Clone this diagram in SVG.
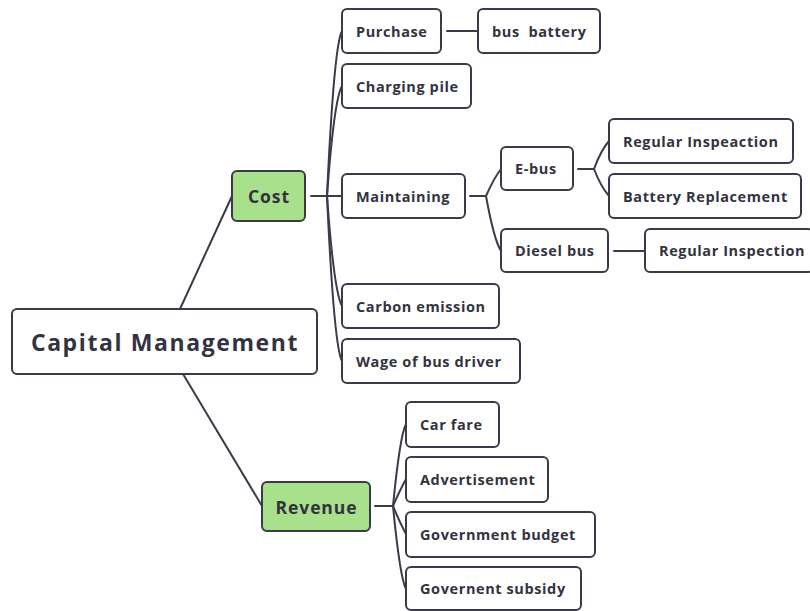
<svg xmlns="http://www.w3.org/2000/svg" width="810" height="611" viewBox="0 0 810 611">
  <style>
    .box { fill: #ffffff; stroke: #3a3a4a; stroke-width: 2; }
    .main { fill: #a8e08c; stroke: #3a3a4a; stroke-width: 2; }
    .lbl { font-family: "Open Sans", "Liberation Sans", sans-serif; font-weight: 700; font-size: 14.5px; letter-spacing: 0.6px; fill: #33333f; dominant-baseline: central; }
    .mid { font-size: 17.5px; letter-spacing: 0.9px; text-anchor: middle; }
    .root { font-size: 23px; letter-spacing: 1.6px; text-anchor: middle; }
    .link { fill: none; stroke: #3a3a4a; stroke-width: 2; stroke-linecap: round; }
  </style>
  <rect width="810" height="611" fill="#ffffff"/>

  <!-- connectors -->
  <g id="connectors">
    <path class="link" d="M180 309 L232 196"/>
    <path class="link" d="M183 374 L262 506"/>
    <!-- cost branch -->
    <path class="link" d="M311 196 L327 196"/>
    <path class="link" d="M327 196 Q334 45 342 31"/>
    <path class="link" d="M327 196 Q334 100 342 86"/>
    <path class="link" d="M327 196 L342 196"/>
    <path class="link" d="M327 196 Q334 292 342 306"/>
    <path class="link" d="M327 196 Q334 347 342 361"/>
    <path class="link" d="M447 31 L478 31"/>
    <!-- maintaining branch -->
    <path class="link" d="M470 196 L486 196"/>
    <path class="link" d="M486 196 Q494 178 501 169"/>
    <path class="link" d="M486 196 Q494 240 501 251"/>
    <path class="link" d="M578 169 L594 169"/>
    <path class="link" d="M594 169 Q601 150 609 141"/>
    <path class="link" d="M594 169 Q601 187 609 196"/>
    <path class="link" d="M614 251 L645 251"/>
    <!-- revenue branch -->
    <path class="link" d="M375 506 L393 506"/>
    <path class="link" d="M393 506 Q400 435 406 424"/>
    <path class="link" d="M393 506 Q400 490 406 479"/>
    <path class="link" d="M393 506 Q400 523 406 534"/>
    <path class="link" d="M393 506 Q400 578 406 589"/>
  </g>

  <g id="capital-management">
    <rect class="box" x="12" y="309" width="305" height="65" rx="5"/>
    <text class="lbl root" x="165" y="342">Capital Management</text>
  </g>
  <g id="cost">
    <rect class="main" x="232" y="171" width="73" height="50" rx="5"/>
    <text class="lbl mid" x="269" y="196">Cost</text>
  </g>
  <g id="revenue">
    <rect class="main" x="262" y="482" width="108" height="49" rx="5"/>
    <text class="lbl mid" x="316.5" y="506.5">Revenue</text>
  </g>

  <g id="purchase">
    <rect class="box" x="342" y="9" width="99" height="44" rx="5"/>
    <text class="lbl" x="356" y="31">Purchase</text>
  </g>
  <g id="bus-battery">
    <rect class="box" x="478" y="9" width="122" height="44" rx="5"/>
    <text class="lbl" x="492" y="31" xml:space="preserve">bus  battery</text>
  </g>
  <g id="charging-pile">
    <rect class="box" x="342" y="64" width="129" height="44" rx="5"/>
    <text class="lbl" x="356" y="86">Charging pile</text>
  </g>
  <g id="maintaining">
    <rect class="box" x="342" y="174" width="123" height="44" rx="5"/>
    <text class="lbl" x="356" y="196">Maintaining</text>
  </g>
  <g id="e-bus">
    <rect class="box" x="501" y="147" width="72" height="43" rx="5"/>
    <text class="lbl" x="515" y="168.5">E-bus</text>
  </g>
  <g id="regular-inspeaction">
    <rect class="box" x="609" y="119" width="184" height="44" rx="5"/>
    <text class="lbl" x="623" y="141">Regular Inspeaction</text>
  </g>
  <g id="battery-replacement">
    <rect class="box" x="609" y="174" width="192" height="44" rx="5"/>
    <text class="lbl" x="623" y="196">Battery Replacement</text>
  </g>
  <g id="diesel-bus">
    <rect class="box" x="501" y="229" width="107" height="43" rx="5"/>
    <text class="lbl" x="515" y="250.5">Diesel bus</text>
  </g>
  <g id="regular-inspection">
    <rect class="box" x="645" y="229" width="168" height="43" rx="5"/>
    <text class="lbl" x="659" y="250.5">Regular Inspection</text>
  </g>
  <g id="carbon-emission">
    <rect class="box" x="342" y="284" width="157" height="44" rx="5"/>
    <text class="lbl" x="356" y="306">Carbon emission</text>
  </g>
  <g id="wage-of-bus-driver">
    <rect class="box" x="342" y="339" width="178" height="44" rx="5"/>
    <text class="lbl" x="356" y="361">Wage of bus driver</text>
  </g>

  <g id="car-fare">
    <rect class="box" x="406" y="402" width="93" height="45" rx="5"/>
    <text class="lbl" x="420" y="424.5">Car fare</text>
  </g>
  <g id="advertisement">
    <rect class="box" x="406" y="457" width="142" height="45" rx="5"/>
    <text class="lbl" x="420" y="479.5">Advertisement</text>
  </g>
  <g id="government-budget">
    <rect class="box" x="406" y="512" width="189" height="45" rx="5"/>
    <text class="lbl" x="420" y="534.5">Government budget</text>
  </g>
  <g id="governent-subsidy">
    <rect class="box" x="406" y="567" width="175" height="43" rx="5"/>
    <text class="lbl" x="420" y="588.5">Governent subsidy</text>
  </g>
</svg>
